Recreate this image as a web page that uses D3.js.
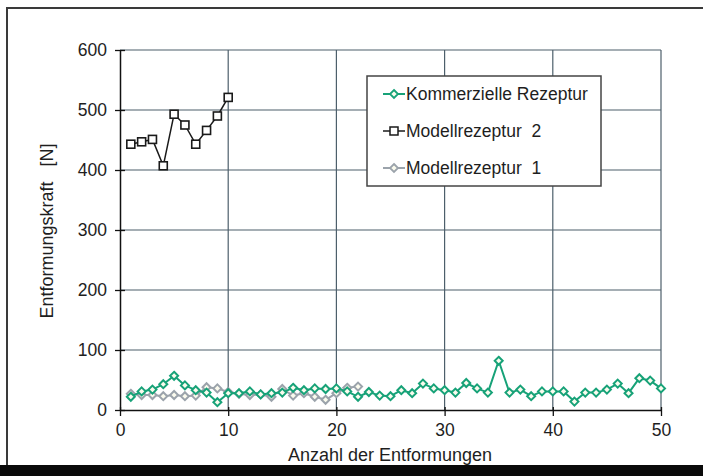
<!DOCTYPE html>
<html><head><meta charset="utf-8">
<script src="https://cdn.jsdelivr.net/npm/d3@7"></script>
<style>
html,body{margin:0;padding:0;background:#fff;}
svg{display:block;font-family:"Liberation Sans",Arial,sans-serif;}
</style></head>
<body><svg id="c" width="703" height="476"></svg>
<script>
// ---- data ----
const xTicks = [0, 10, 20, 30, 40, 50];
const yTicks = [0, 100, 200, 300, 400, 500, 600];
const seriesNames = ["Kommerzielle Rezeptur", "Modellrezeptur  2", "Modellrezeptur  1"];
const kommerzielle = [22,31,34,43,57,41,33,29,13,28, 28,31,26,28,29,37,33,36,35,36, 31,22,30,24,23,33,28,44,36,33, 29,45,36,29,82,29,34,23,31,31, 31,14,29,29,34,44,28,53,49,36];
const modell2 = [443,447,451,407,493,475,443,466,490,521];
const modell1 = [27,25,25,23,25,23,24,38,36,30, 27,25,26,22,35,24,28,22,17,28, 37,39];
const xLabel = "Anzahl der Entformungen";
const yLabel = "Entformungskraft   [N]";

const svg = d3.select("#c");
const W = 703, H = 476;
const m = {left:120, right:661, top:50, bottom:410};
const x = d3.scaleLinear().domain([0,50]).range([m.left, m.right]);
const y = d3.scaleLinear().domain([0,600]).range([m.bottom, m.top]);

// background + outer frame
svg.append("rect").attr("x",0).attr("y",0).attr("width",W).attr("height",H).attr("fill","#fff");
svg.append("rect").attr("x",7).attr("y",8).attr("width",W+20).attr("height",460)
  .attr("fill","none").attr("stroke","#3a3a3a").attr("stroke-width",2);
svg.append("rect").attr("x",0).attr("y",465).attr("width",W).attr("height",H-465).attr("fill","#0a0a0a");

// grid
const gridColor = "#4d5f6b";
svg.append("g").selectAll("line").data(yTicks.filter(d=>d>0)).join("line")
  .attr("x1",m.left).attr("x2",m.right).attr("y1",d=>y(d)).attr("y2",d=>y(d))
  .attr("stroke",gridColor).attr("stroke-width",1.2);
svg.append("g").selectAll("line").data(xTicks.filter(d=>d>0)).join("line")
  .attr("x1",d=>x(d)).attr("x2",d=>x(d)).attr("y1",m.top).attr("y2",m.bottom)
  .attr("stroke",gridColor).attr("stroke-width",1.2);

// axes
const yAxis = d3.axisLeft(y).tickValues(yTicks).tickSizeInner(5).tickSizeOuter(0).tickPadding(8);
const gy = svg.append("g").attr("transform",`translate(${m.left},0)`).call(yAxis);
gy.select(".domain").attr("stroke","#111").attr("stroke-width",1.5);
gy.selectAll(".tick line").attr("stroke","#111").attr("x2",5).attr("x1",-5).attr("stroke-width",1.3);
gy.selectAll(".tick text").attr("font-size",17.5).attr("fill","#1e1e1e").attr("x",-13)
  .style("font-family","'Liberation Sans',Arial,sans-serif");

const xAxis = d3.axisBottom(x).tickValues(xTicks).tickSizeInner(5).tickSizeOuter(0).tickPadding(8);
const gx = svg.append("g").attr("transform",`translate(0,${m.bottom})`).call(xAxis);
gx.select(".domain").attr("stroke","#111").attr("stroke-width",1.5);
gx.selectAll(".tick line").attr("stroke","#111").attr("y1",-3).attr("y2",6).attr("stroke-width",1.3);
gx.selectAll(".tick text").attr("font-size",17.5).attr("fill","#1e1e1e").attr("y",14)
  .style("font-family","'Liberation Sans',Arial,sans-serif");

// axis labels
svg.append("text").attr("x",390).attr("y",461).attr("text-anchor","middle")
  .attr("font-size",18).attr("fill","#1e1e1e").text(xLabel);
svg.append("text").attr("transform","translate(53,231) rotate(-90)").attr("text-anchor","middle")
  .attr("font-size",18).attr("fill","#1e1e1e").style("white-space","pre").attr("xml:space","preserve").text(yLabel);

// series
const diamond = "M0,-4L4,0L0,4L-4,0Z";
const line = d3.line().x((d,i)=>x(i+1)).y(d=>y(d));

const colGray = "#9ba3ab", colGreen = "#17a278", colBlack = "#1a1a1a";

function drawSeries(data, color, lw, marker){
  const g = svg.append("g");
  g.append("path").datum(data).attr("d",line).attr("fill","none")
    .attr("stroke",color).attr("stroke-width",lw).attr("stroke-linejoin","round");
  if(marker==="diamond"){
    g.selectAll("path.m").data(data).join("path").attr("class","m")
      .attr("d",diamond).attr("transform",(d,i)=>`translate(${x(i+1)},${y(d)})`)
      .attr("fill","#fbfbee").attr("stroke",color).attr("stroke-width",2);
  } else {
    g.selectAll("rect.m").data(data).join("rect").attr("class","m")
      .attr("x",(d,i)=>x(i+1)-4).attr("y",d=>y(d)-4).attr("width",8).attr("height",8)
      .attr("fill","#fff").attr("stroke",color).attr("stroke-width",1.6);
  }
}
drawSeries(modell1, colGray, 2, "diamond");
drawSeries(kommerzielle, colGreen, 2, "diamond");
drawSeries(modell2, colBlack, 1.5, "square");

// legend
const lg = svg.append("g");
lg.append("rect").attr("x",367).attr("y",76).attr("width",234).attr("height",110)
  .attr("fill","#fff").attr("stroke","#444").attr("stroke-width",1.5);
const legItems = [
  {name:seriesNames[0], color:colGreen, marker:"diamond"},
  {name:seriesNames[1], color:colBlack, marker:"square"},
  {name:seriesNames[2], color:colGray, marker:"diamond"}
];
const legY = d3.scalePoint().domain(legItems.map(d=>d.name)).range([94,168]);
legItems.forEach(it=>{
  const yy = legY(it.name);
  lg.append("line").attr("x1",383).attr("x2",405).attr("y1",yy).attr("y2",yy)
    .attr("stroke",it.color).attr("stroke-width",it.marker==="square"?1.5:2);
  if(it.marker==="diamond"){
    lg.append("path").attr("d",diamond).attr("transform",`translate(394,${yy})`)
      .attr("fill","#fbfbee").attr("stroke",it.color).attr("stroke-width",1.8);
  } else {
    lg.append("rect").attr("x",390).attr("y",yy-4).attr("width",8).attr("height",8)
      .attr("fill","#fff").attr("stroke",it.color).attr("stroke-width",1.5);
  }
  lg.append("text").attr("x",406).attr("y",yy+6).attr("font-size",17.5).attr("fill","#1e1e1e")
    .attr("xml:space","preserve").style("white-space","pre").text(it.name);
});
</script></body></html>
